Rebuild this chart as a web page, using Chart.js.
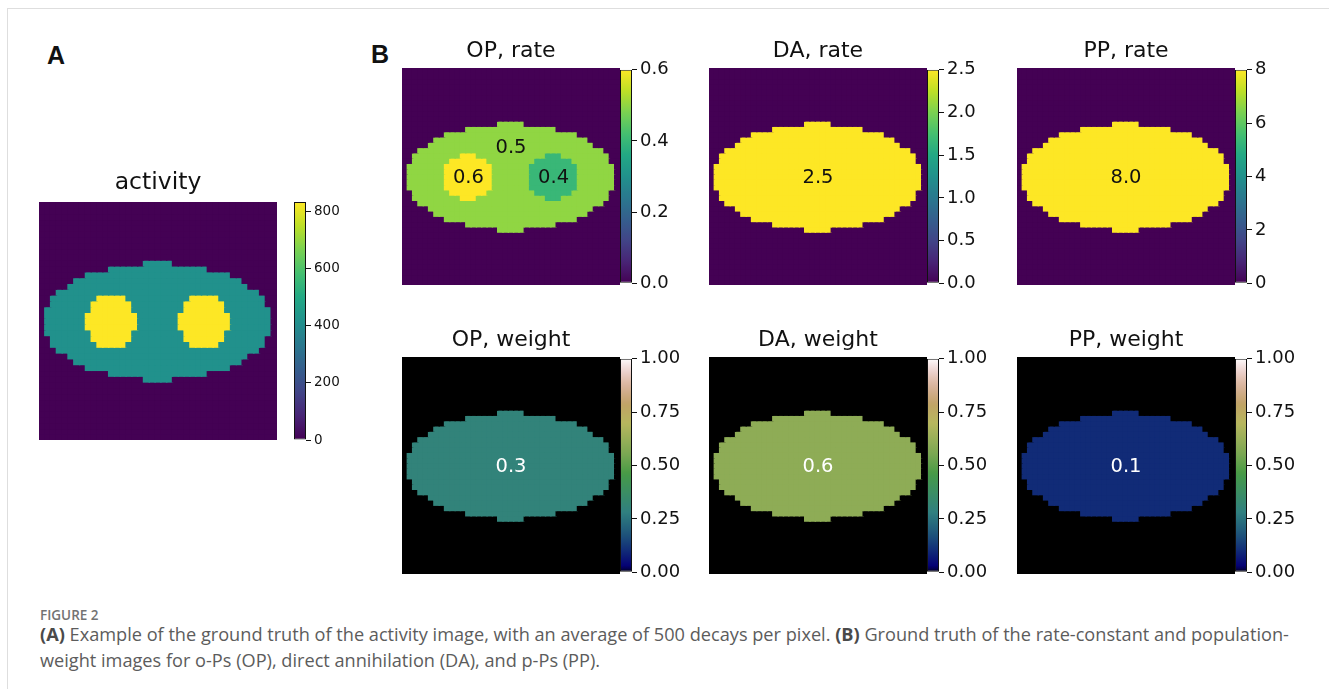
<!DOCTYPE html>
<html>
<head>
<meta charset="utf-8">
<script src="https://cdn.jsdelivr.net/npm/chart.js@4.4.1/dist/chart.umd.min.js"></script>
<style>
  body { margin: 0; background: #fff; width: 1329px; height: 689px; position: relative; overflow: hidden; }
  .frame { position: absolute; left: 7px; top: 8px; width: 1340px; height: 700px; border-top: 1px solid #dedede; border-left: 1px solid #dedede; }
  canvas { position: absolute; }
  .letter { position: absolute; font-family: "Liberation Sans", Arial, sans-serif; font-weight: bold; font-size: 25px; color: #111; line-height: 1; }
  .fig { position: absolute; left: 40px; top: 606px; font-family: "Open Sans", sans-serif; font-size: 13.5px; font-weight: 600; color: #737373; }
  .cap { position: absolute; left: 40px; font-family: "Open Sans", sans-serif; font-size: 16px; color: #5c5c5c; white-space: nowrap; line-height: 1; }
  .cap b { color: #4a4a4a; }
</style>
</head>
<body>
<div class="frame"></div>
<div class="letter" style="left:47px; top:43px;">A</div>
<div class="letter" style="left:371px; top:42px;">B</div>

<canvas id="hmA" width="238" height="271" style="left:39px; top:169px;"></canvas>
<canvas id="cbA" width="60" height="262" style="left:294px; top:190px;"></canvas>

<canvas id="hmOPr" width="218" height="247" style="left:402px; top:38px;"></canvas>
<canvas id="cbOPr" width="80" height="241" style="left:620px; top:56px;"></canvas>
<canvas id="hmDAr" width="218" height="247" style="left:709px; top:38px;"></canvas>
<canvas id="cbDAr" width="80" height="241" style="left:927px; top:56px;"></canvas>
<canvas id="hmPPr" width="218" height="247" style="left:1017px; top:38px;"></canvas>
<canvas id="cbPPr" width="80" height="241" style="left:1235px; top:56px;"></canvas>

<canvas id="hmOPw" width="218" height="247" style="left:402px; top:327px;"></canvas>
<canvas id="cbOPw" width="80" height="241" style="left:620px; top:345px;"></canvas>
<canvas id="hmDAw" width="218" height="247" style="left:709px; top:327px;"></canvas>
<canvas id="cbDAw" width="80" height="241" style="left:927px; top:345px;"></canvas>
<canvas id="hmPPw" width="218" height="247" style="left:1017px; top:327px;"></canvas>
<canvas id="cbPPw" width="80" height="241" style="left:1235px; top:345px;"></canvas>

<div class="fig">FIGURE 2</div>
<div class="cap" id="cap1" style="top:625px;"><b>(A)</b> Example of the ground truth of the activity image, with an average of 500 decays per pixel. <b>(B)</b> Ground truth of the rate-constant and population-</div>
<div class="cap" id="cap2" style="top:651px;">weight images for o-Ps (OP), direct annihilation (DA), and p-Ps (PP).</div>

<script>
Chart.defaults.font.family = "DejaVu Sans";

// image is 41 x 41 pixels
const N = 41;
const centerCol = 20;

// phantom outline: first row of the body, half width per row
const bodyFirstRow = 10;
const bodyHalfWidth = [2, 8, 12, 14, 15, 17, 18, 18, 19, 19, 19, 19, 19, 18, 18, 17, 15, 14, 12, 8, 2];
// the two inserts
const insertCols = [12, 28];
const insertFirstRow = 16;
const activityInsertHalfWidth = [2, 3, 3, 4, 4, 4, 3, 3, 2];
const rateInsertHalfWidth = [1, 3, 4, 4, 4, 4, 4, 3, 1];

// values per region: background, body, left insert, right insert
const activity = [0, 418, 835, 835];
const opRate = [0, 0.5, 0.6, 0.4];
const daRate = [0, 2.5, 2.5, 2.5];
const ppRate = [0, 8.0, 8.0, 8.0];
const opWeight = [0, 0.3, 0.3, 0.3];
const daWeight = [0, 0.6, 0.6, 0.6];
const ppWeight = [0, 0.1, 0.1, 0.1];

// colour bar ranges and ticks
const activityMax = 835;
const activityTicks = [0, 200, 400, 600, 800];
const opRateMax = 0.6;
const opRateTicks = [0.0, 0.2, 0.4, 0.6];
const daRateMax = 2.5;
const daRateTicks = [0.0, 0.5, 1.0, 1.5, 2.0, 2.5];
const ppRateMax = 8;
const ppRateTicks = [0, 2, 4, 6, 8];
const weightMax = 1;
const weightTicks = [0.00, 0.25, 0.50, 0.75, 1.00];

// numbers written on the images
const opRateText = ["0.5", "0.6", "0.4"];
const opRateTextCol = [20, 12, 28];
const opRateTextRow = [15.1, 20.7, 20.7];
const daRateText = ["2.5"];
const ppRateText = ["8.0"];
const opWeightText = ["0.3"];
const daWeightText = ["0.6"];
const ppWeightText = ["0.1"];
const centerTextCol = [20];
const centerTextRow = [20.7];

// colormaps
const viridisStops = ["#440154", "#482475", "#414487", "#355f8d", "#2a788e", "#21918c", "#22a884", "#44bf70", "#7ad151", "#bddf26", "#fde725"];
function hexToRgb(h) {
  return [parseInt(h.slice(1, 3), 16), parseInt(h.slice(3, 5), 16), parseInt(h.slice(5, 7), 16)];
}
function viridis(t) {
  t = Math.min(1, Math.max(0, t));
  let p = t * (viridisStops.length - 1);
  let i = Math.min(Math.floor(p), viridisStops.length - 2);
  let f = p - i;
  let a = hexToRgb(viridisStops[i]), b = hexToRgb(viridisStops[i + 1]);
  return "rgb(" + a.map((v, k) => Math.round(v + (b[k] - v) * f)).join(",") + ")";
}

// gist_earth channel tables
const earthRed = [[0, 0], [0.2824, 0.1882], [0.4588, 0.2714], [0.5490, 0.4719], [0.6980, 0.7176], [0.7882, 0.7553], [1, 0.9922]];
const earthGreen = [[0, 0], [0.0275, 0], [0.1098, 0.1893], [0.1647, 0.3035], [0.2078, 0.3841], [0.2824, 0.5020], [0.5216, 0.6397], [0.6980, 0.7171], [0.7882, 0.6392], [0.8157, 0.6549], [0.8667, 0.6991], [0.8980, 0.7430], [0.9412, 0.8275], [0.9647, 0.8816], [0.9961, 0.9733], [1, 0.9843]];
const earthBlue = [[0, 0], [0.0039, 0.1684], [0.0078, 0.2212], [0.0275, 0.4329], [0.0314, 0.4549], [0.2824, 0.5004], [0.4667, 0.2748], [0.5451, 0.3205], [0.7843, 0.3961], [0.8941, 0.6651], [1, 0.9843]];
function channel(tab, t) {
  for (let i = 1; i < tab.length; i++) {
    if (t <= tab[i][0]) {
      let f = (t - tab[i - 1][0]) / (tab[i][0] - tab[i - 1][0]);
      return tab[i - 1][1] + (tab[i][1] - tab[i - 1][1]) * f;
    }
  }
  return tab[tab.length - 1][1];
}
function gistEarth(t) {
  t = Math.min(1, Math.max(0, t));
  return "rgb(" + [earthRed, earthGreen, earthBlue].map(c => Math.round(channel(c, t) * 255)).join(",") + ")";
}

// region index of every pixel
function regionGrid(insertHalf) {
  let g = [];
  for (let r = 0; r < N; r++) {
    let row = [];
    for (let c = 0; c < N; c++) {
      let k = 0;
      let b = r - bodyFirstRow;
      if (b >= 0 && b < bodyHalfWidth.length && Math.abs(c - centerCol) <= bodyHalfWidth[b]) k = 1;
      let s = r - insertFirstRow;
      if (s >= 0 && s < insertHalf.length) {
        insertCols.forEach((ic, i) => {
          if (Math.abs(c - ic) <= insertHalf[s]) k = 2 + i;
        });
      }
      row.push(k);
    }
    g.push(row);
  }
  return g;
}
const activityGrid = regionGrid(activityInsertHalfWidth);
const rateGrid = regionGrid(rateInsertHalfWidth);

const cellText = {
  id: "cellText",
  afterDatasetsDraw(chart, args, opts) {
    if (!opts.labels || !opts.labels.length) return;
    const ctx = chart.ctx;
    const x = chart.scales.x, y = chart.scales.y;
    ctx.save();
    ctx.font = '19.5px "DejaVu Sans"';
    ctx.fillStyle = opts.color;
    ctx.textAlign = "center";
    ctx.textBaseline = "middle";
    opts.labels.forEach((t, i) => {
      ctx.fillText(t, x.getPixelForValue(opts.cols[i]), y.getPixelForValue(opts.rows[i]));
    });
    ctx.restore();
  }
};

function heatmap(id, grid, values, cmap, vmax, title, titleSize, text, textCols, textRows, textColor) {
  const cols = [...Array(N).keys()];
  const datasets = grid.map((row, r) => ({
    data: cols.map(() => [r, r + 1]),
    backgroundColor: row.map(k => cmap(values[k] / vmax)),
    borderWidth: 0,
    inflateAmount: 0.7, // hides the hairline seams between pixels
    grouped: false,
    barPercentage: 1,
    categoryPercentage: 1
  }));
  const big = titleSize > 22;
  new Chart(id, {
    type: "bar",
    data: { labels: cols, datasets: datasets },
    options: {
      responsive: false,
      animation: false,
      events: [],
      layout: { padding: 0 },
      plugins: {
        legend: { display: false },
        tooltip: { enabled: false },
        title: {
          display: true,
          text: title,
          color: "#111",
          font: { size: titleSize, weight: "normal", lineHeight: big ? "28px" : "26px" },
          padding: { top: 0, bottom: big ? 5 : 4 }
        },
        cellText: { labels: text, cols: textCols, rows: textRows, color: textColor }
      },
      scales: {
        x: { display: false },
        y: { display: false, min: 0, max: N, reverse: true }
      }
    },
    plugins: [cellText]
  });
}

function colorbar(id, cmap, vmax, ticks, decimals, fontSize) {
  const canvas = document.getElementById(id);
  const barW = 12;
  new Chart(canvas, {
    type: "bar",
    data: {
      labels: [""],
      datasets: [{
        data: [[0, vmax]],
        backgroundColor: (c) => {
          const area = c.chart.chartArea;
          if (!area) return cmap(0.5);
          const g = c.chart.ctx.createLinearGradient(0, area.bottom, 0, area.top);
          for (let i = 0; i <= 64; i++) g.addColorStop(i / 64, cmap(i / 64));
          return g;
        },
        borderColor: "#111",
        borderWidth: 1,
        borderSkipped: false,
        inflateAmount: 0,
        barPercentage: 1,
        categoryPercentage: 1
      }]
    },
    options: {
      responsive: false,
      animation: false,
      events: [],
      layout: { padding: { top: 12, bottom: 12, left: 0, right: 0 } },
      plugins: { legend: { display: false }, tooltip: { enabled: false } },
      scales: {
        x: { display: false },
        y: {
          position: "right",
          min: 0,
          max: vmax,
          afterBuildTicks: (axis) => { axis.ticks = ticks.map(v => ({ value: v })); },
          afterFit: (axis) => { axis.width = canvas.width - barW; },
          ticks: {
            color: "#111",
            padding: 3,
            font: { size: fontSize },
            callback: (v) => Number(v).toFixed(decimals)
          },
          grid: { drawOnChartArea: false, tickLength: 5, color: "#111", tickWidth: 1 },
          border: { display: false }
        }
      }
    }
  });
}

// A
heatmap("hmA", activityGrid, activity, viridis, activityMax, "activity", 23.5, [], [], [], "#000");
colorbar("cbA", viridis, activityMax, activityTicks, 0, 13.5);

// B, rate constants
heatmap("hmOPr", rateGrid, opRate, viridis, opRateMax, "OP, rate", 22, opRateText, opRateTextCol, opRateTextRow, "#111");
colorbar("cbOPr", viridis, opRateMax, opRateTicks, 1, 18);
heatmap("hmDAr", rateGrid, daRate, viridis, daRateMax, "DA, rate", 22, daRateText, centerTextCol, centerTextRow, "#111");
colorbar("cbDAr", viridis, daRateMax, daRateTicks, 1, 18);
heatmap("hmPPr", rateGrid, ppRate, viridis, ppRateMax, "PP, rate", 22, ppRateText, centerTextCol, centerTextRow, "#111");
colorbar("cbPPr", viridis, ppRateMax, ppRateTicks, 0, 18);

// B, population weights
heatmap("hmOPw", rateGrid, opWeight, gistEarth, weightMax, "OP, weight", 22, opWeightText, centerTextCol, centerTextRow, "#fff");
colorbar("cbOPw", gistEarth, weightMax, weightTicks, 2, 18);
heatmap("hmDAw", rateGrid, daWeight, gistEarth, weightMax, "DA, weight", 22, daWeightText, centerTextCol, centerTextRow, "#fff");
colorbar("cbDAw", gistEarth, weightMax, weightTicks, 2, 18);
heatmap("hmPPw", rateGrid, ppWeight, gistEarth, weightMax, "PP, weight", 22, ppWeightText, centerTextCol, centerTextRow, "#fff");
colorbar("cbPPw", gistEarth, weightMax, weightTicks, 2, 18);

// stretch the caption so the first line ends where the original does
let cap1 = document.querySelector("#cap1");
let cap2 = document.querySelector("#cap2");
let w = cap1.getBoundingClientRect().width;
let size = 16 * 1250 / w;
cap1.style.fontSize = size + "px";
cap2.style.fontSize = size + "px";
</script>
</body>
</html>
